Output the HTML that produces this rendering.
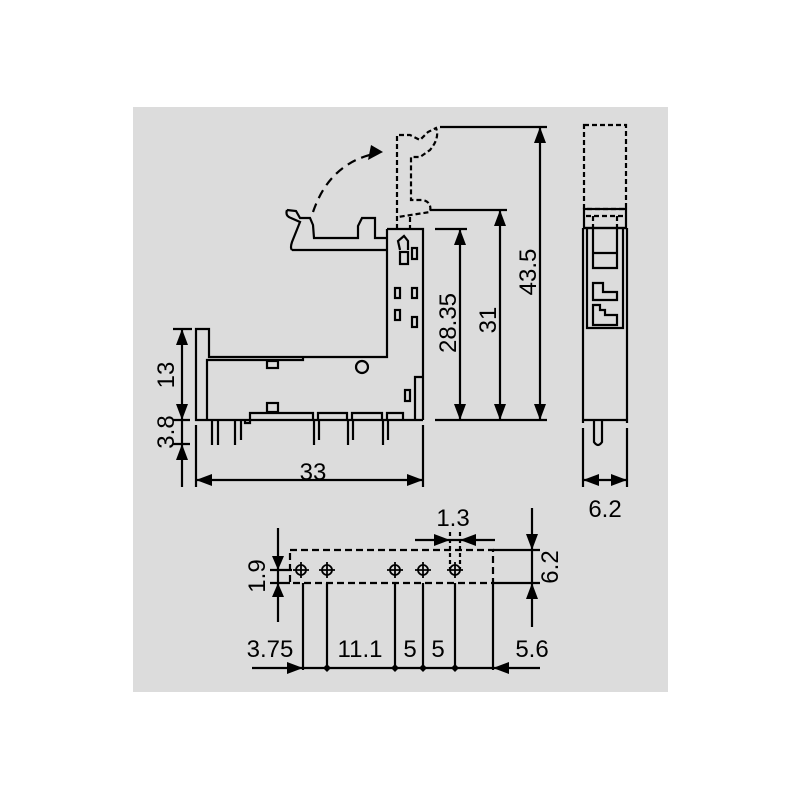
<!DOCTYPE html>
<html><head><style>body{margin:0;background:#fff}svg{display:block}</style></head><body>
<svg width="800" height="800" viewBox="0 0 800 800" xmlns="http://www.w3.org/2000/svg" font-family="Liberation Sans, Arial, sans-serif">
<rect x="133" y="107" width="535" height="585" fill="#dcdcdc"/>
<g fill="none" stroke="#000" stroke-width="2.2">
<path d="M292,250 L387,250 M287,210 Q285,216 291,218 L300,222 Q296,232 292,242 Q290,248 292,250 M287,210 L296,211 L300,218 L310,218 L313,225 L314,238 L358,238 L358,226 L362,218 L375,218 L375,238 L387,238"/>
<path d="M387,229 L423,229 L423,420 M387,229 L387,357 L209,357 L209,329 L196,329 L196,420 L423,420"/>
<path d="M207,420 L207,360 L303,360 L303,357"/>
<path d="M415,420 L415,377 L423,377"/>
<rect x="267" y="361" width="11" height="7"/>
<rect x="267" y="403" width="11" height="9"/>
<circle cx="362" cy="367" r="6"/>
<rect x="405" y="390" width="5" height="11"/>
<rect x="395" y="288" width="5" height="10"/>
<rect x="412" y="288" width="5" height="10"/>
<rect x="395" y="310" width="5" height="10"/>
<rect x="412" y="317" width="5" height="10"/>
<rect x="412" y="248" width="5" height="11"/>
<rect x="400" y="252" width="8" height="12"/>
<path d="M400,250 L398,241 L404,236 L408,241 L408,250"/>
<path d="M245,420 L245,423 L250,423 L250,413 L313,413 L313,420 M318,420 L318,413 L347,413 L347,420 M352,420 L352,413 L382,413 L382,420 M387,420 L387,413 L403,413 L403,420"/>
<path d="M212,420 L212,445 M218,420 L218,445 M235,420 L235,445 M241,420 L241,440 M314,420 L314,445 M319,420 L319,440 M348,420 L348,445 M353,420 L353,440 M383,420 L383,445 M388,420 L388,440"/>
<path stroke-dasharray="5,3" d="M397,229 L397,135 L410,135 L420,140 L428,132 L436,128 Q440,138 430,150 L420,157 L411,157 L411,200 L423,200 Q432,202 430,212 L398,217 M410,217 L410,229"/>
<path stroke-dasharray="9,6" d="M313,212 Q330,162 378,153"/>
<path d="M173,329 L192,329 M173,420 L190,420 M173,444 L190,444 M182,329 L182,487 M196,425 L196,487 M423,425 L423,487 M196,480 L423,480"/>
<path d="M440,127 L547,127 M430,210 L507,210 M435,229 L467,229 M435,420 L547,420 M460,229 L460,420 M500,210 L500,420 M540,127 L540,420"/>
<rect x="584" y="125" width="42" height="84" stroke-dasharray="5,3"/>
<rect x="584" y="209" width="42" height="19"/>
<path stroke-dasharray="5,3" d="M586,216 L624,216 M593,216 L593,228 M617,216 L617,228"/>
<path d="M583,228 L583,423 M627,228 L627,423 M583,228 L627,228 M587,228 L587,328 L623,328 L623,228 M583,420 L627,420"/>
<path d="M593,228 L593,268 L617,268 L617,228 M593,253 L617,253"/>
<path d="M593,325 L593,305 L600,305 L600,310 L605,310 L605,315 L617,315 L617,325 Z M593,300 L593,283 L603,283 L603,292 L617,292 L617,300 Z"/>
<path d="M594,420 L594,442 Q598,448 602,442 L602,420"/>
<path d="M583,428 L583,487 M627,428 L627,487 M583,480 L627,480"/>
<rect x="290" y="550" width="203" height="33" stroke-dasharray="7,4"/>
<path d="M303,583 L303,670 M327,583 L327,668 M395,583 L395,668 M423,583 L423,668 M455,583 L455,668 M493,583 L493,670 M252,668 L540,668"/>
<path stroke-dasharray="4,3" d="M450,532 L450,570 M460,532 L460,570"/>
<path d="M415,540 L495,540 M493,550 L540,550 M493,583 L540,583 M532,508 L532,627 M270,570 L292,570 M270,583 L290,583 M278,528 L278,622"/>
</g>
<g fill="none" stroke="#000" stroke-width="1.8">
<circle cx="301" cy="570" r="5"/><circle cx="327" cy="570" r="5"/><circle cx="395" cy="570" r="5"/><circle cx="423" cy="570" r="5"/><circle cx="455" cy="570" r="5"/>
<path d="M293,570h16M301,562v16M319,570h16M327,562v16M387,570h16M395,562v16M415,570h16M423,562v16M447,570h16M455,562v16"/>
</g>
<g fill="#000">
<polygon points="176,345 188,345 182,329"/><polygon points="176,404 188,404 182,420"/><polygon points="176,460 188,460 182,444"/>
<polygon points="212,474 212,486 196,480"/><polygon points="407,474 407,486 423,480"/>
<polygon points="454,245 466,245 460,229"/><polygon points="454,404 466,404 460,420"/>
<polygon points="494,226 506,226 500,210"/><polygon points="494,404 506,404 500,420"/>
<polygon points="534,143 546,143 540,127"/><polygon points="534,404 546,404 540,420"/>
<polygon points="371,145 383,152 368,160"/>
<polygon points="599,474 599,486 583,480"/><polygon points="611,474 611,486 627,480"/>
<polygon points="287,662 287,674 303,668"/><polygon points="509,662 509,674 493,668"/>
<polygon points="434,534 434,546 450,540"/><polygon points="476,534 476,546 460,540"/>
<polygon points="526,534 538,534 532,550"/><polygon points="526,599 538,599 532,583"/>
<polygon points="272,556 284,556 278,570"/><polygon points="272,597 284,597 278,583"/>
<polygon points="327,664 331,668 327,672 323,668"/><polygon points="395,664 399,668 395,672 391,668"/><polygon points="423,664 427,668 423,672 419,668"/><polygon points="455,664 459,668 455,672 451,668"/>
</g>
<g font-size="24" fill="#000" text-anchor="middle">
<text x="313" y="480">33</text>
<text x="605" y="517">6.2</text>
<text x="453" y="526">1.3</text>
<text x="270" y="657">3.75</text>
<text x="360" y="657">11.1</text>
<text x="410" y="657">5</text>
<text x="438" y="657">5</text>
<text x="532" y="657">5.6</text>
<text transform="translate(174,375) rotate(-90)">13</text>
<text transform="translate(174,432) rotate(-90)">3.8</text>
<text transform="translate(456,323) rotate(-90)">28.35</text>
<text transform="translate(496,320) rotate(-90)">31</text>
<text transform="translate(536,272) rotate(-90)">43.5</text>
<text transform="translate(558,567) rotate(-90)">6.2</text>
<text transform="translate(265,576) rotate(-90)">1.9</text>
</g>
</svg>
</body></html>
